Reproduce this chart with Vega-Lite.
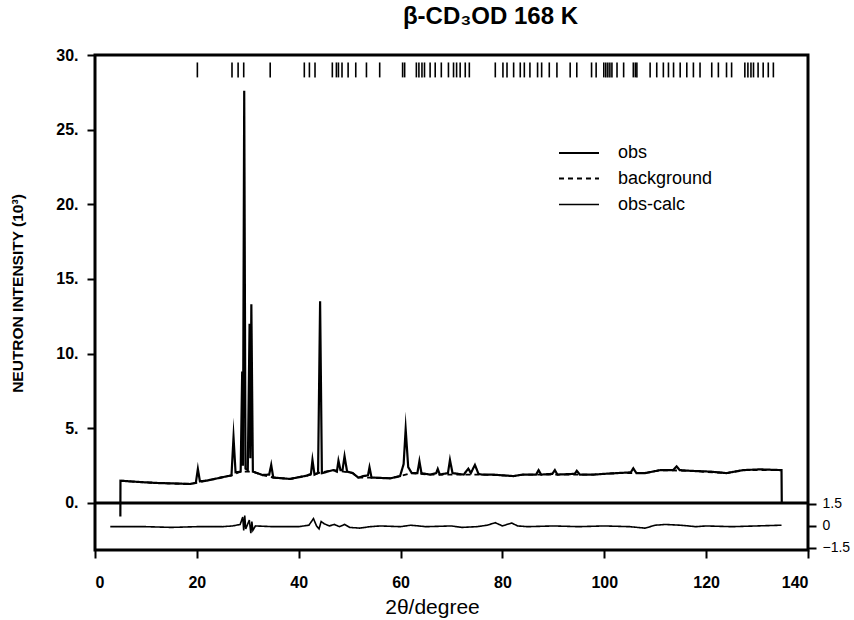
{
  "$schema": "https://vega.github.io/schema/vega-lite/v6.json",
  "width": 713,
  "height": 495,
  "autosize": "none",
  "padding": {"left": 95, "top": 55, "right": 46, "bottom": 70},
  "background": "white",
  "title": {"text": "β-CD₃OD 168 K", "fontSize": 24, "font": "Liberation Sans", "fontWeight": "bold", "color": "black", "anchor": "middle", "dx": 39, "offset": 18},
  "config": {
    "view": {"stroke": "black", "strokeWidth": 3},
    "axis": {"domain": false, "grid": false, "tickColor": "black", "tickWidth": 2, "tickSize": 8, "labelColor": "black", "labelFont": "Liberation Sans", "labelFontWeight": "bold", "labelFontSize": 16, "titleColor": "black", "titleFont": "Liberation Sans"},
    "legend": {"labelFont": "Liberation Sans", "labelFontSize": 18, "labelColor": "black"}
  },
  "datasets": {
    "lines": [
      {"series": "obs", "x": 4.98, "y": -0.9},
      {"series": "obs", "x": 5.0, "y": 1.49},
      {"series": "obs", "x": 8, "y": 1.42},
      {"series": "obs", "x": 12, "y": 1.34},
      {"series": "obs", "x": 16, "y": 1.3},
      {"series": "obs", "x": 18.7, "y": 1.27},
      {"series": "obs", "x": 19.8, "y": 1.35},
      {"series": "obs", "x": 20.2, "y": 2.28},
      {"series": "obs", "x": 20.6, "y": 1.45},
      {"series": "obs", "x": 22, "y": 1.5},
      {"series": "obs", "x": 25, "y": 1.72},
      {"series": "obs", "x": 26.8, "y": 1.85},
      {"series": "obs", "x": 27.2, "y": 4.4},
      {"series": "obs", "x": 27.6, "y": 2.05},
      {"series": "obs", "x": 28.6, "y": 2.1},
      {"series": "obs", "x": 28.9, "y": 8.8},
      {"series": "obs", "x": 29.05, "y": 2.5},
      {"series": "obs", "x": 29.3, "y": 27.6},
      {"series": "obs", "x": 29.55, "y": 2.3},
      {"series": "obs", "x": 30.0, "y": 2.2},
      {"series": "obs", "x": 30.35, "y": 12.0},
      {"series": "obs", "x": 30.5, "y": 3.0},
      {"series": "obs", "x": 30.7, "y": 13.3},
      {"series": "obs", "x": 31.0, "y": 2.1},
      {"series": "obs", "x": 32.9, "y": 1.87},
      {"series": "obs", "x": 34.2, "y": 1.9},
      {"series": "obs", "x": 34.6, "y": 2.55},
      {"series": "obs", "x": 35.0, "y": 1.7},
      {"series": "obs", "x": 38.3, "y": 1.61},
      {"series": "obs", "x": 41.6, "y": 1.83},
      {"series": "obs", "x": 42.4, "y": 1.95},
      {"series": "obs", "x": 42.7, "y": 2.88},
      {"series": "obs", "x": 43.1, "y": 1.9},
      {"series": "obs", "x": 43.8, "y": 2.0},
      {"series": "obs", "x": 44.2, "y": 13.5},
      {"series": "obs", "x": 44.55, "y": 2.0},
      {"series": "obs", "x": 46.8, "y": 2.2},
      {"series": "obs", "x": 47.5, "y": 2.1},
      {"series": "obs", "x": 47.8, "y": 2.83},
      {"series": "obs", "x": 48.2, "y": 2.2},
      {"series": "obs", "x": 48.6, "y": 2.2},
      {"series": "obs", "x": 49.0, "y": 3.13},
      {"series": "obs", "x": 49.5, "y": 2.1},
      {"series": "obs", "x": 50.6, "y": 2.0},
      {"series": "obs", "x": 51.7, "y": 1.7},
      {"series": "obs", "x": 52.7, "y": 1.8},
      {"series": "obs", "x": 53.6, "y": 1.85},
      {"series": "obs", "x": 53.9, "y": 2.39},
      {"series": "obs", "x": 54.3, "y": 1.7},
      {"series": "obs", "x": 58.0, "y": 1.65},
      {"series": "obs", "x": 59.9, "y": 1.8},
      {"series": "obs", "x": 60.6, "y": 2.6},
      {"series": "obs", "x": 61.0, "y": 4.95},
      {"series": "obs", "x": 61.5, "y": 2.4},
      {"series": "obs", "x": 62.2, "y": 2.0},
      {"series": "obs", "x": 63.3, "y": 2.0},
      {"series": "obs", "x": 63.7, "y": 2.8},
      {"series": "obs", "x": 64.1, "y": 2.0},
      {"series": "obs", "x": 65.8, "y": 1.9},
      {"series": "obs", "x": 67.0, "y": 2.0},
      {"series": "obs", "x": 67.3, "y": 2.28},
      {"series": "obs", "x": 67.7, "y": 1.9},
      {"series": "obs", "x": 69.3, "y": 2.0},
      {"series": "obs", "x": 69.7, "y": 2.88},
      {"series": "obs", "x": 70.2, "y": 2.0},
      {"series": "obs", "x": 72.4, "y": 1.9},
      {"series": "obs", "x": 73.3, "y": 2.3},
      {"series": "obs", "x": 73.8, "y": 2.0},
      {"series": "obs", "x": 74.6, "y": 2.55},
      {"series": "obs", "x": 75.3, "y": 1.95},
      {"series": "obs", "x": 76, "y": 1.9},
      {"series": "obs", "x": 78.2, "y": 1.9},
      {"series": "obs", "x": 80, "y": 1.85},
      {"series": "obs", "x": 82.2, "y": 1.8},
      {"series": "obs", "x": 84, "y": 1.9},
      {"series": "obs", "x": 86.6, "y": 1.9},
      {"series": "obs", "x": 87.1, "y": 2.2},
      {"series": "obs", "x": 87.6, "y": 1.9},
      {"series": "obs", "x": 89.8, "y": 1.95},
      {"series": "obs", "x": 90.3, "y": 2.2},
      {"series": "obs", "x": 90.8, "y": 1.9},
      {"series": "obs", "x": 94.2, "y": 1.95},
      {"series": "obs", "x": 94.6, "y": 2.15},
      {"series": "obs", "x": 95.2, "y": 1.9},
      {"series": "obs", "x": 97.9, "y": 1.9},
      {"series": "obs", "x": 100, "y": 1.95},
      {"series": "obs", "x": 102.5, "y": 2.0},
      {"series": "obs", "x": 105.2, "y": 2.05},
      {"series": "obs", "x": 105.7, "y": 2.32},
      {"series": "obs", "x": 106.3, "y": 2.0},
      {"series": "obs", "x": 108, "y": 2.0},
      {"series": "obs", "x": 111.0, "y": 2.2},
      {"series": "obs", "x": 113.5, "y": 2.2},
      {"series": "obs", "x": 114.2, "y": 2.45},
      {"series": "obs", "x": 114.8, "y": 2.2},
      {"series": "obs", "x": 117, "y": 2.15},
      {"series": "obs", "x": 120.8, "y": 2.1},
      {"series": "obs", "x": 124.0, "y": 2.0},
      {"series": "obs", "x": 127.3, "y": 2.2},
      {"series": "obs", "x": 130.6, "y": 2.25},
      {"series": "obs", "x": 134.8, "y": 2.2},
      {"series": "obs", "x": 134.85, "y": 0},
      {"series": "background", "x": 5.0, "y": 1.49},
      {"series": "background", "x": 8, "y": 1.42},
      {"series": "background", "x": 12, "y": 1.34},
      {"series": "background", "x": 16, "y": 1.3},
      {"series": "background", "x": 18.7, "y": 1.27},
      {"series": "background", "x": 22, "y": 1.5},
      {"series": "background", "x": 25, "y": 1.72},
      {"series": "background", "x": 26.8, "y": 1.85},
      {"series": "background", "x": 28.6, "y": 2.1},
      {"series": "background", "x": 31.0, "y": 2.1},
      {"series": "background", "x": 32.9, "y": 1.87},
      {"series": "background", "x": 35.0, "y": 1.7},
      {"series": "background", "x": 38.3, "y": 1.61},
      {"series": "background", "x": 41.6, "y": 1.83},
      {"series": "background", "x": 43.8, "y": 2.0},
      {"series": "background", "x": 46.8, "y": 2.2},
      {"series": "background", "x": 50.6, "y": 2.0},
      {"series": "background", "x": 51.7, "y": 1.7},
      {"series": "background", "x": 54.3, "y": 1.7},
      {"series": "background", "x": 58.0, "y": 1.65},
      {"series": "background", "x": 59.9, "y": 1.8},
      {"series": "background", "x": 62.2, "y": 2.0},
      {"series": "background", "x": 65.8, "y": 1.9},
      {"series": "background", "x": 72.4, "y": 1.9},
      {"series": "background", "x": 76, "y": 1.9},
      {"series": "background", "x": 80, "y": 1.85},
      {"series": "background", "x": 82.2, "y": 1.8},
      {"series": "background", "x": 84, "y": 1.9},
      {"series": "background", "x": 97.9, "y": 1.9},
      {"series": "background", "x": 102.5, "y": 2.0},
      {"series": "background", "x": 108, "y": 2.0},
      {"series": "background", "x": 111.0, "y": 2.2},
      {"series": "background", "x": 117, "y": 2.15},
      {"series": "background", "x": 124.0, "y": 2.0},
      {"series": "background", "x": 127.3, "y": 2.2},
      {"series": "background", "x": 134.8, "y": 2.2}
    ],
    "res": [
      {"series": "obs-calc", "x": 3, "r": -0.05},
      {"series": "obs-calc", "x": 10, "r": -0.05},
      {"series": "obs-calc", "x": 15, "r": -0.1},
      {"series": "obs-calc", "x": 20, "r": -0.05},
      {"series": "obs-calc", "x": 25, "r": -0.05},
      {"series": "obs-calc", "x": 27, "r": 0.0},
      {"series": "obs-calc", "x": 28.5, "r": 0.1},
      {"series": "obs-calc", "x": 29.0, "r": 0.6},
      {"series": "obs-calc", "x": 29.2, "r": -0.3},
      {"series": "obs-calc", "x": 29.4, "r": 0.7},
      {"series": "obs-calc", "x": 29.6, "r": -0.2},
      {"series": "obs-calc", "x": 30.3, "r": 0.4},
      {"series": "obs-calc", "x": 30.6, "r": -0.5},
      {"series": "obs-calc", "x": 30.8, "r": 0.3},
      {"series": "obs-calc", "x": 31.0, "r": -0.3},
      {"series": "obs-calc", "x": 31.5, "r": 0.0},
      {"series": "obs-calc", "x": 35, "r": -0.05},
      {"series": "obs-calc", "x": 40, "r": -0.05},
      {"series": "obs-calc", "x": 42, "r": 0.05},
      {"series": "obs-calc", "x": 42.9, "r": 0.5},
      {"series": "obs-calc", "x": 43.5, "r": 0.0},
      {"series": "obs-calc", "x": 44.0, "r": -0.2},
      {"series": "obs-calc", "x": 44.4, "r": 0.3},
      {"series": "obs-calc", "x": 45, "r": 0.15},
      {"series": "obs-calc", "x": 46, "r": 0.0},
      {"series": "obs-calc", "x": 47, "r": 0.1},
      {"series": "obs-calc", "x": 48, "r": -0.05},
      {"series": "obs-calc", "x": 49, "r": 0.1},
      {"series": "obs-calc", "x": 50, "r": -0.1},
      {"series": "obs-calc", "x": 52, "r": -0.15},
      {"series": "obs-calc", "x": 54, "r": -0.05},
      {"series": "obs-calc", "x": 56, "r": 0.0},
      {"series": "obs-calc", "x": 60, "r": -0.05},
      {"series": "obs-calc", "x": 62, "r": 0.05},
      {"series": "obs-calc", "x": 65, "r": -0.05},
      {"series": "obs-calc", "x": 70, "r": 0.0},
      {"series": "obs-calc", "x": 72, "r": -0.1},
      {"series": "obs-calc", "x": 75, "r": -0.05},
      {"series": "obs-calc", "x": 77, "r": 0.05},
      {"series": "obs-calc", "x": 78.6, "r": 0.22},
      {"series": "obs-calc", "x": 80, "r": 0.0},
      {"series": "obs-calc", "x": 81.8, "r": 0.2},
      {"series": "obs-calc", "x": 83, "r": 0.0},
      {"series": "obs-calc", "x": 85, "r": -0.05},
      {"series": "obs-calc", "x": 90, "r": 0.0},
      {"series": "obs-calc", "x": 95, "r": -0.05},
      {"series": "obs-calc", "x": 100, "r": 0.0},
      {"series": "obs-calc", "x": 105, "r": -0.05},
      {"series": "obs-calc", "x": 108, "r": -0.15},
      {"series": "obs-calc", "x": 110, "r": 0.05},
      {"series": "obs-calc", "x": 112, "r": 0.1},
      {"series": "obs-calc", "x": 115, "r": 0.05},
      {"series": "obs-calc", "x": 118, "r": -0.05},
      {"series": "obs-calc", "x": 120, "r": 0.0},
      {"series": "obs-calc", "x": 125, "r": -0.05},
      {"series": "obs-calc", "x": 130, "r": 0.0},
      {"series": "obs-calc", "x": 134.8, "r": 0.05}
    ],
    "refl": [
      {"x": 20.1}, {"x": 26.9}, {"x": 28.1}, {"x": 29.2}, {"x": 34.4}, {"x": 41.1}, {"x": 42.1}, {"x": 43.2},
      {"x": 46.6}, {"x": 47.4}, {"x": 47.8}, {"x": 48.5}, {"x": 49.7}, {"x": 51.2}, {"x": 53.3}, {"x": 55.9},
      {"x": 60.4}, {"x": 60.8}, {"x": 63.1}, {"x": 63.6}, {"x": 64.2}, {"x": 64.7}, {"x": 65.8}, {"x": 66.8},
      {"x": 68.0}, {"x": 69.4}, {"x": 70.4}, {"x": 71.0}, {"x": 71.7}, {"x": 72.7}, {"x": 73.5},
      {"x": 78.6}, {"x": 80.1}, {"x": 80.9}, {"x": 82.2}, {"x": 83.5}, {"x": 84.3}, {"x": 85.4}, {"x": 86.9},
      {"x": 87.7}, {"x": 89.2}, {"x": 90.7}, {"x": 93.3}, {"x": 94.6}, {"x": 97.5}, {"x": 98.4},
      {"x": 99.9}, {"x": 100.3}, {"x": 100.7}, {"x": 101.1}, {"x": 101.5}, {"x": 102.5}, {"x": 103.8},
      {"x": 105.7}, {"x": 106.1}, {"x": 106.4}, {"x": 109.0}, {"x": 110.3}, {"x": 111.6}, {"x": 112.6},
      {"x": 113.6}, {"x": 114.9}, {"x": 116.2}, {"x": 117.5}, {"x": 118.8}, {"x": 121.1}, {"x": 122.4},
      {"x": 124.0}, {"x": 125.0}, {"x": 127.6}, {"x": 128.2}, {"x": 128.8}, {"x": 129.3}, {"x": 130.2},
      {"x": 131.2}, {"x": 132.2}, {"x": 133.2}
    ]
  },
  "layer": [
    {
      "layer": [
        {
          "data": {"name": "refl"},
          "mark": {"type": "rule", "color": "black", "strokeWidth": 1.6},
          "encoding": {
            "x": {"field": "x", "type": "quantitative", "scale": {"domain": [0, 140], "nice": false, "zero": false},
                  "axis": {"values": [0, 20, 40, 60, 80, 100, 120, 140], "labelFontSize": 16, "title": "2θ/degree", "titleFontSize": 21, "titleFontWeight": "normal", "titleX": 337, "titleY": 63, "titleBaseline": "alphabetic", "labelPadding": 16}},
            "y": {"datum": 29.5, "type": "quantitative", "scale": {"domain": [-3.15, 30], "nice": false, "zero": false},
                  "axis": {"values": [0, 5, 10, 15, 20, 25, 30], "labelFontSize": 16, "labelExpr": "datum.value + '.'", "labelPadding": 9, "title": "NEUTRON INTENSITY (10³)", "titleFontSize": 15.5, "titleFontWeight": "bold", "titleX": -78, "titleY": 238, "titleAngle": -90, "titleBaseline": "middle", "titleAlign": "center"}},
            "y2": {"datum": 28.5}
          }
        },
        {
          "data": {"values": [{"zero": 0}]},
          "mark": {"type": "rule", "color": "black", "strokeWidth": 3},
          "encoding": {"y": {"field": "zero", "type": "quantitative"}}
        },
        {
          "data": {"name": "lines"},
          "mark": {"type": "line", "strokeJoin": "miter", "strokeMiterLimit": 20},
          "encoding": {
            "x": {"field": "x", "type": "quantitative"},
            "y": {"field": "y", "type": "quantitative"},
            "detail": {"field": "series"},
            "color": {"field": "series", "type": "nominal", "scale": {"domain": ["obs", "background", "obs-calc"], "range": ["black", "black", "black"]},
                      "legend": {"title": null, "orient": "none", "legendX": 470, "legendY": 84, "symbolType": "M-1.6,0H1.6", "symbolSize": 625, "rowPadding": 3, "labelOffset": 25, "symbolStrokeColor": "black", "symbolFillColor": "transparent"}},
            "strokeDash": {"field": "series", "type": "nominal", "scale": {"domain": ["obs", "background", "obs-calc"], "range": [[1, 0], [5, 4], [1, 0]]},
                      "legend": {"title": null, "orient": "none", "legendX": 470, "legendY": 84, "symbolType": "M-1.6,0H1.6", "symbolSize": 625, "rowPadding": 3, "labelOffset": 25}},
            "strokeWidth": {"field": "series", "type": "nominal", "scale": {"domain": ["obs", "background", "obs-calc"], "range": [2.2, 1.6, 1.1]},
                      "legend": {"title": null, "orient": "none", "legendX": 470, "legendY": 84, "symbolType": "M-1.6,0H1.6", "symbolSize": 625, "rowPadding": 3, "labelOffset": 25}}
          }
        }
      ]
    },
    {
      "data": {"name": "res"},
      "mark": {"type": "line"},
      "encoding": {
        "x": {"field": "x", "type": "quantitative"},
        "y": {"field": "r", "type": "quantitative", "scale": {"domain": [-1.64, 32.1], "nice": false, "zero": false},
              "axis": {"orient": "right", "values": [-1.5, 0, 1.5], "format": ".1~f", "labelFontWeight": "normal", "labelFontSize": 14, "labelPadding": 6, "title": null}},
        "color": {"field": "series", "type": "nominal"},
        "strokeDash": {"field": "series", "type": "nominal"},
        "strokeWidth": {"field": "series", "type": "nominal"}
      }
    }
  ],
  "resolve": {"scale": {"y": "independent"}}
}
